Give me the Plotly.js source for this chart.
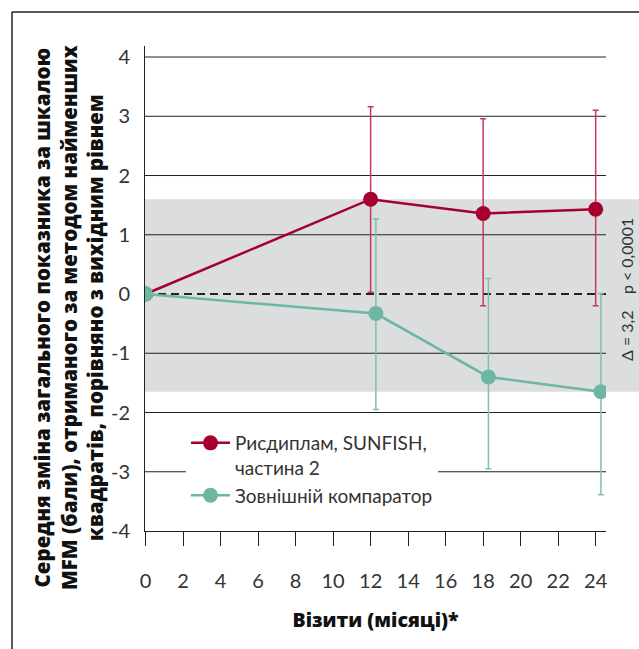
<!DOCTYPE html>
<html>
<head>
<meta charset="utf-8">
<script src="https://cdn.plot.ly/plotly-3.0.1.min.js"></script>
<style>html,body{margin:0;padding:0;background:#fff;}#chart{width:639px;height:649px;}</style>
</head>
<body>
<div id="chart"></div>
<script>
// ---- data ----
const months = [0, 12, 18, 24];
const risdiplamName = 'Рисдиплам, SUNFISH,<br>частина 2';
const risdiplamMean = [0, 1.60, 1.36, 1.43];
const risdiplamErrUp = [0, 1.56, 1.60, 1.67];
const risdiplamErrDown = [0, 1.57, 1.56, 1.63];
const comparatorName = 'Зовнішній компаратор';
const comparatorMean = [0, -0.33, -1.40, -1.65];
const comparatorErrUp = [0, 1.60, 1.66, 1.66];
const comparatorErrDown = [0, 1.62, 1.55, 1.74];
const xTickVals = [0, 2, 4, 6, 8, 10, 12, 14, 16, 18, 20, 22, 24];
const xTickLabels = ['0', '2', '4', '6', '8', '10', '12', '14', '16', '18', '20', '22', '24'];
const yTickVals = [-4, -3, -2, -1, 0, 1, 2, 3, 4];
const yTickLabels = ['-4', '-3', '-2', '-1', '0', '1', '2', '3', '4'];
const bandRange = [-1.65, 1.6];
const diffLabel = 'Δ = 3,2\u00a0\u00a0\u00a0\u00a0p &lt; 0,0001';
const yTitle = 'Середня зміна загального показника за шкалою<br>MFM (бали), отриманого за методом найменших<br>квадратів, порівняно з вихідним рівнем';
const xTitle = 'Візити (місяці)*';

// ---- styling / geometry ----
const W = 639, H = 649;
const M = {l: 145, r: 33, t: 46, b: 118};
const L = M.l, R = W - M.r, T = M.t, B = H - M.b;
const px = x => (x - L) / (R - L);
const py = y => (B - y) / (B - T);
const compShift = 0.28; // small horizontal dodge so error bars don't overlap
const red = '#a6002f', redErr = '#c43a5d';
const teal = '#6db6a2', tealErr = '#7fc1af';
const tickFont = {family: 'Lato', size: 20, color: '#333'};
const titleFont = {family: 'Open Sans', weight: 800, color: '#111'};

const traces = [
  {
    x: months, y: risdiplamMean, name: risdiplamName, type: 'scatter', mode: 'lines+markers',
    line: {color: red, width: 2.5}, marker: {color: red, size: 15},
    error_y: {type: 'data', symmetric: false, array: risdiplamErrUp, arrayminus: risdiplamErrDown,
      color: redErr, thickness: 1.5, width: 3}
  },
  {
    x: months.map(m => m > 0 ? m + compShift : m), y: comparatorMean, name: comparatorName,
    type: 'scatter', mode: 'lines+markers',
    line: {color: teal, width: 2.5}, marker: {color: teal, size: 15},
    error_y: {type: 'data', symmetric: false, array: comparatorErrUp, arrayminus: comparatorErrDown,
      color: tealErr, thickness: 1.5, width: 3}
  }
];

const shapes = [
  {type: 'rect', xref: 'paper', yref: 'y', x0: 0, x1: px(W), y0: bandRange[0], y1: bandRange[1],
    fillcolor: '#dcdddf', line: {width: 0}, layer: 'below'}
];
yTickVals.filter(v => v !== 0 && v !== yTickVals[0]).forEach(v => {
  shapes.push({type: 'line', xref: 'paper', yref: 'y', x0: 0, x1: 1, y0: v, y1: v,
    line: {color: '#222', width: 1}, layer: 'below'});
});
shapes.push({type: 'line', xref: 'paper', yref: 'y', x0: 0, x1: 1, y0: 0, y1: 0,
  line: {color: '#222', width: 2, dash: '8px,5px'}, layer: 'below'});
// outer frame (top + left)
shapes.push({type: 'line', xref: 'paper', yref: 'paper', x0: px(12), x1: px(W), y0: py(12), y1: py(12),
  line: {color: '#222', width: 1.5}});
shapes.push({type: 'line', xref: 'paper', yref: 'paper', x0: px(12), x1: px(12), y0: py(12), y1: py(H),
  line: {color: '#222', width: 1.5}});

const layout = {
  width: W, height: H, margin: M,
  paper_bgcolor: '#fff', plot_bgcolor: 'rgba(0,0,0,0)',
  showlegend: true,
  legend: {x: px(186), y: py(424), xanchor: 'left', yanchor: 'top', bgcolor: '#fff', valign: 'top',
    itemwidth: 39, font: {family: 'Lato', size: 19, color: '#333'}, tracegroupgap: 0},
  xaxis: {range: [-0.03, 24.55], tickvals: xTickVals, ticktext: xTickLabels,
    showgrid: false, zeroline: false, showline: true, linecolor: '#222', linewidth: 1,
    ticks: 'outside', ticklen: 14, tickcolor: '#222', tickwidth: 1,
    tickfont: tickFont, ticklabelstandoff: 18,
    title: {text: xTitle, font: Object.assign({size: 19.5}, titleFont), standoff: 22}},
  yaxis: {range: [-4, 4.186], tickvals: yTickVals, ticktext: yTickLabels,
    showgrid: false, zeroline: false, showline: true, linecolor: '#222', linewidth: 1,
    ticks: '', tickfont: tickFont, ticklabelstandoff: 10},
  shapes: shapes,
  annotations: [
    {text: yTitle, xref: 'paper', yref: 'paper', x: px(68), y: py(318),
      xanchor: 'center', yanchor: 'middle', textangle: -90, showarrow: false, align: 'center',
      font: Object.assign({size: 20.5}, titleFont)},
    {text: diffLabel, xref: 'paper', yref: 'paper', x: px(626), y: py(290),
      xanchor: 'center', yanchor: 'middle', textangle: -90, showarrow: false,
      font: {family: 'Lato', size: 16, color: '#333'}}
  ]
};

Plotly.newPlot('chart', traces, layout, {displayModeBar: false, staticPlot: true});
</script>
</body>
</html>
